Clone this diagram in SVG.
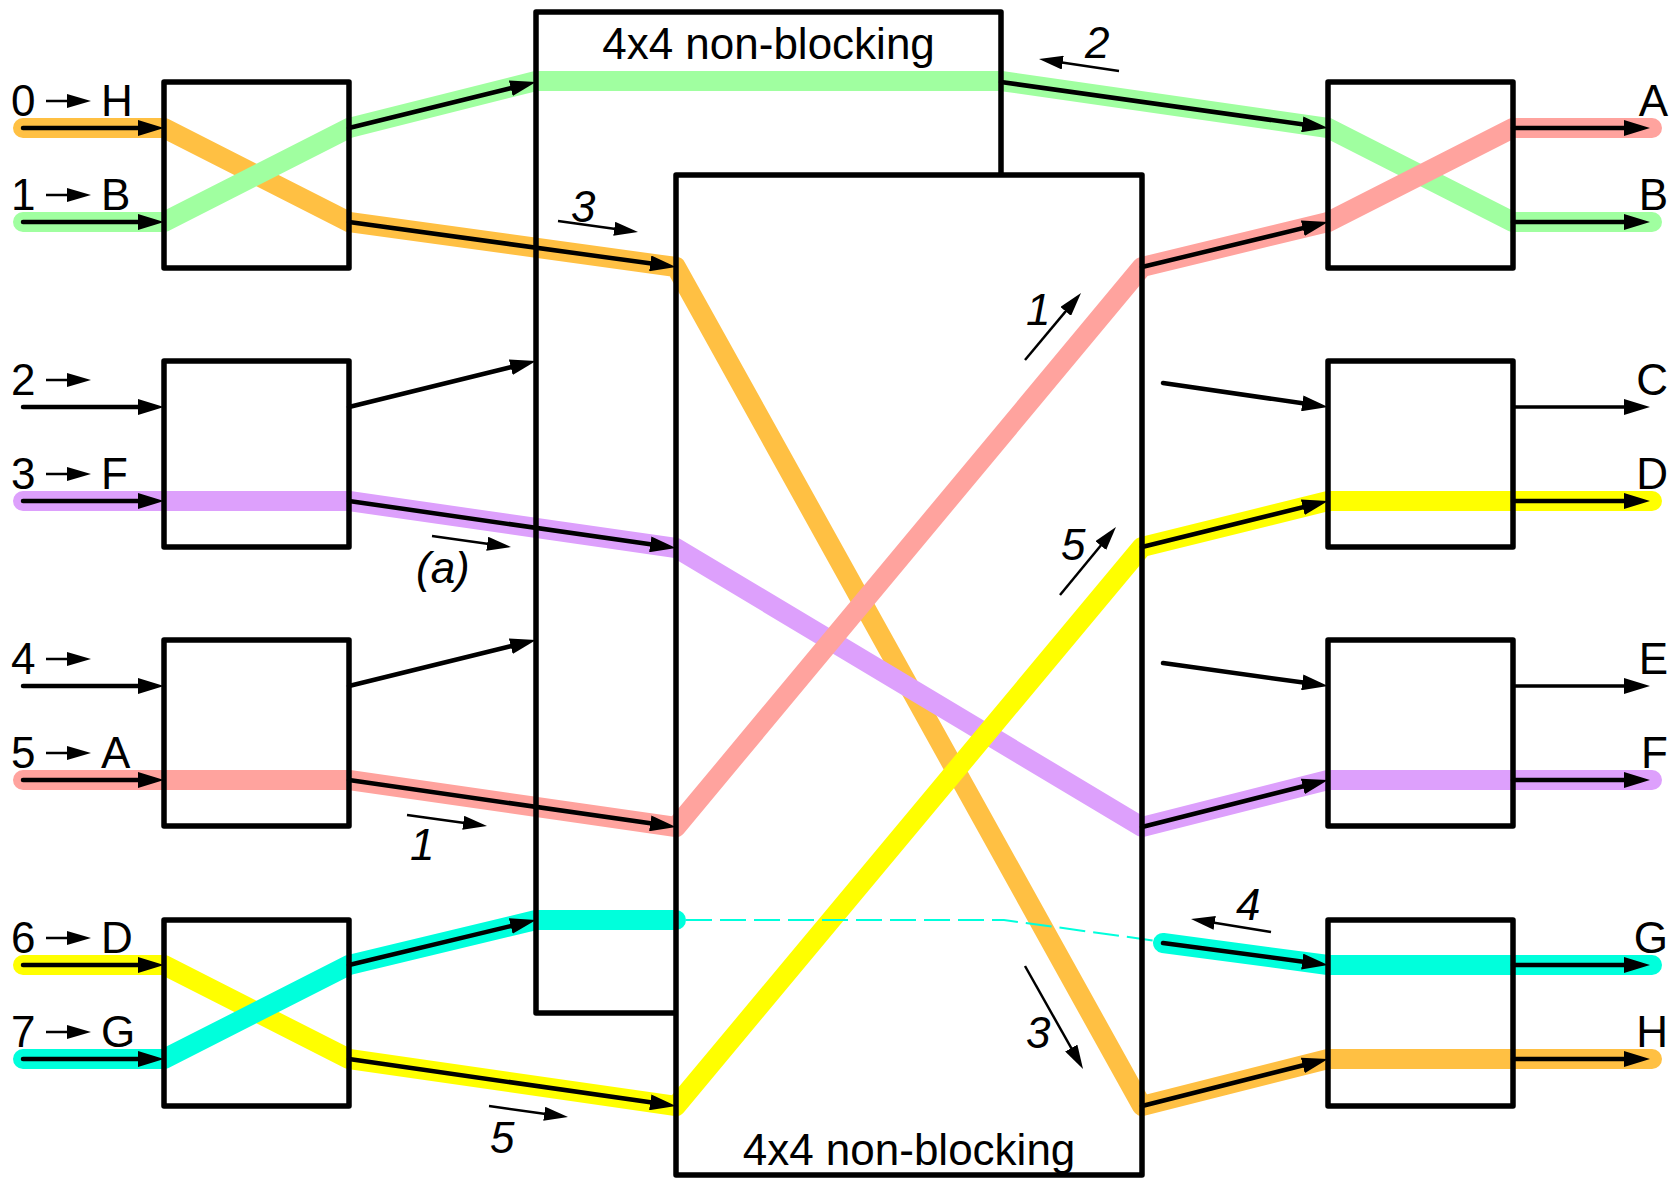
<svg xmlns="http://www.w3.org/2000/svg" width="1675" height="1178" viewBox="0 0 1675 1178">
  <style>
    .band{fill:none;stroke-width:20;stroke-linecap:round;stroke-linejoin:round}
    .or{stroke:#FFC043}.gr{stroke:#A0FFA0}.rd{stroke:#FFA39E}
    .pu{stroke:#DDA0FC}.ye{stroke:#FFFF00}.cy{stroke:#00FFDC}
    .arr{fill:none;stroke:#000;stroke-width:4.5;stroke-linecap:round;marker-end:url(#ah)}
    .arr.lt{stroke-width:3.5}
    .thin{fill:none;stroke:#000;stroke-width:2.5;marker-end:url(#ahs)}
    .box{fill:none;stroke:#000;stroke-width:5.5;stroke-linejoin:round}
    .lbl{font-family:"Liberation Sans",Arial,sans-serif;font-size:44px;fill:#000}
    .num{font-style:italic}
    .end{text-anchor:end}
    .mid{text-anchor:middle}
  </style>
  <defs>
    <marker id="ah" markerUnits="userSpaceOnUse" viewBox="0 0 26 16" markerWidth="26" markerHeight="16" refX="16" refY="8" orient="auto">
      <path d="M0,0 L26,8 L0,16 z" fill="#000"/>
    </marker>
    <marker id="ahs" markerUnits="userSpaceOnUse" viewBox="0 0 24 14" markerWidth="24" markerHeight="14" refX="16" refY="7" orient="auto">
      <path d="M0,0 L24,7 L0,14 z" fill="#000"/>
    </marker>
  </defs>
  <rect width="1675" height="1178" fill="#fff"/>

  <g id="connectors">
    <!-- highlighted paths through the three stages -->
    <g id="paths">
      <polyline class="band or" points="23,128 164,128 349,222 676,267 1142,1106 1328,1059 1652,1059"/>
      <polyline class="band gr" points="23,222 164,222 349,128 536,81 1001,81 1328,128 1513,222 1652,222"/>
      <polyline class="band pu" points="23,501 349,501 676,548 1142,827 1328,780 1652,780"/>
      <polyline class="band rd" points="23,780 349,780 676,827 1142,267 1328,222 1513,128 1652,128"/>
      <polyline class="band ye" points="23,965 164,965 349,1059 676,1106 1142,547 1328,501 1652,501"/>
      <polyline class="band cy" points="23,1059 164,1059 349,965 536,920 676,920"/>
      <polyline fill="none" stroke="#00FFDC" stroke-width="2" stroke-dasharray="26 8" points="686,920 1004,920 1157,941"/>
      <polyline class="band cy" points="1163,943 1328,965 1652,965"/>
    </g>
    <!-- inputs -->
    <g id="inputs">
      <line class="arr" x1="23" y1="128" x2="154" y2="128"/>
      <line class="arr" x1="23" y1="222" x2="154" y2="222"/>
      <line class="arr" x1="23" y1="407" x2="154" y2="407"/>
      <line class="arr" x1="23" y1="501" x2="154" y2="501"/>
      <line class="arr" x1="23" y1="686" x2="154" y2="686"/>
      <line class="arr" x1="23" y1="780" x2="154" y2="780"/>
      <line class="arr" x1="23" y1="965" x2="154" y2="965"/>
      <line class="arr" x1="23" y1="1059" x2="154" y2="1059"/>
    </g>
    <!-- first stage to middle stage -->
    <g id="stage1-links">
      <line class="arr" x1="349" y1="128" x2="526.3" y2="84.4"/>
      <line class="arr" x1="349" y1="222" x2="666.1" y2="265.6"/>
      <line class="arr" x1="349" y1="407" x2="526.3" y2="363.4"/>
      <line class="arr" x1="349" y1="501" x2="666.1" y2="546.6"/>
      <line class="arr" x1="349" y1="686" x2="526.3" y2="642.4"/>
      <line class="arr" x1="349" y1="780" x2="666.1" y2="825.6"/>
      <line class="arr" x1="349" y1="965" x2="526.3" y2="922.3"/>
      <line class="arr" x1="349" y1="1059" x2="666.1" y2="1104.6"/>
    </g>
    <!-- middle stage to last stage -->
    <g id="stage2-links">
      <line class="arr" x1="1001" y1="82" x2="1318.1" y2="126.6"/>
      <line class="arr" x1="1142" y1="267" x2="1318.3" y2="224.4"/>
      <line class="arr" x1="1163" y1="383" x2="1318.1" y2="405.6"/>
      <line class="arr" x1="1142" y1="547" x2="1318.3" y2="503.4"/>
      <line class="arr" x1="1163" y1="663" x2="1318.1" y2="684.6"/>
      <line class="arr" x1="1142" y1="827" x2="1318.3" y2="782.5"/>
      <line class="arr" x1="1163" y1="943" x2="1318.1" y2="963.7"/>
      <line class="arr" x1="1142" y1="1106" x2="1318.3" y2="1061.5"/>
    </g>
    <!-- outputs -->
    <g id="outputs">
      <line class="arr" x1="1513" y1="128" x2="1640" y2="128"/>
      <line class="arr" x1="1513" y1="222" x2="1640" y2="222"/>
      <line class="arr lt" x1="1513" y1="407" x2="1640" y2="407"/>
      <line class="arr" x1="1513" y1="501" x2="1640" y2="501"/>
      <line class="arr lt" x1="1513" y1="686" x2="1640" y2="686"/>
      <line class="arr" x1="1513" y1="780" x2="1640" y2="780"/>
      <line class="arr" x1="1513" y1="965" x2="1640" y2="965"/>
      <line class="arr" x1="1513" y1="1059" x2="1640" y2="1059"/>
    </g>
    <!-- step annotations -->
    <g id="steps">
      <line class="thin" x1="1119" y1="71" x2="1046.9" y2="60.2"/>
      <line class="thin" x1="558" y1="221" x2="630.1" y2="230.9"/>
      <line class="thin" x1="432" y1="536" x2="503.1" y2="545.9"/>
      <line class="thin" x1="407" y1="815" x2="479.1" y2="824.9"/>
      <line class="thin" x1="489" y1="1106" x2="560.1" y2="1115.9"/>
      <line class="thin" x1="1025" y1="360" x2="1075.9" y2="299.1"/>
      <line class="thin" x1="1060" y1="595" x2="1110.9" y2="533.2"/>
      <line class="thin" x1="1271" y1="932" x2="1198.9" y2="920.3"/>
      <line class="thin" x1="1025" y1="966" x2="1079.1" y2="1062"/>
    </g>
  </g>

  <!-- middle stage: two 4x4 non-blocking switches -->
  <g id="mid-upper">
    <path class="box" d="M676,1013 L536,1013 L536,12 L1001,12 L1001,175"/>
    <text class="lbl mid" x="768.5" y="59">4x4 non-blocking</text>
  </g>
  <g id="mid-lower">
    <rect class="box" x="676" y="175" width="466" height="1000"/>
    <text class="lbl mid" x="909" y="1165">4x4 non-blocking</text>
  </g>

  <!-- first stage 2x2 switches -->
  <g id="in-sw0"><rect class="box" x="164" y="82" width="185" height="186"/></g>
  <g id="in-sw1"><rect class="box" x="164" y="361" width="185" height="186"/></g>
  <g id="in-sw2"><rect class="box" x="164" y="640" width="185" height="186"/></g>
  <g id="in-sw3"><rect class="box" x="164" y="920" width="185" height="186"/></g>

  <!-- last stage 2x2 switches -->
  <g id="out-sw0"><rect class="box" x="1328" y="82" width="185" height="186"/></g>
  <g id="out-sw1"><rect class="box" x="1328" y="361" width="185" height="186"/></g>
  <g id="out-sw2"><rect class="box" x="1328" y="640" width="185" height="186"/></g>
  <g id="out-sw3"><rect class="box" x="1328" y="920" width="185" height="186"/></g>

  <!-- input labels: source -> destination -->
  <g id="input-labels">
    <text class="lbl" x="11" y="116">0</text><line class="thin" x1="46" y1="101" x2="83" y2="101"/><text class="lbl" x="101" y="116">H</text>
    <text class="lbl" x="11" y="210">1</text><line class="thin" x1="46" y1="195" x2="83" y2="195"/><text class="lbl" x="101" y="210">B</text>
    <text class="lbl" x="11" y="395">2</text><line class="thin" x1="46" y1="380" x2="83" y2="380"/>
    <text class="lbl" x="11" y="489">3</text><line class="thin" x1="46" y1="474" x2="83" y2="474"/><text class="lbl" x="101" y="489">F</text>
    <text class="lbl" x="11" y="674">4</text><line class="thin" x1="46" y1="659" x2="83" y2="659"/>
    <text class="lbl" x="11" y="768">5</text><line class="thin" x1="46" y1="753" x2="83" y2="753"/><text class="lbl" x="101" y="768">A</text>
    <text class="lbl" x="11" y="953">6</text><line class="thin" x1="46" y1="938" x2="83" y2="938"/><text class="lbl" x="101" y="953">D</text>
    <text class="lbl" x="11" y="1047">7</text><line class="thin" x1="46" y1="1032" x2="83" y2="1032"/><text class="lbl" x="101" y="1047">G</text>
  </g>

  <!-- output labels -->
  <g id="output-labels">
    <text class="lbl end" x="1668" y="116">A</text>
    <text class="lbl end" x="1668" y="210">B</text>
    <text class="lbl end" x="1668" y="395">C</text>
    <text class="lbl end" x="1668" y="489">D</text>
    <text class="lbl end" x="1668" y="674">E</text>
    <text class="lbl end" x="1668" y="768">F</text>
    <text class="lbl end" x="1668" y="953">G</text>
    <text class="lbl end" x="1668" y="1047">H</text>
  </g>

  <!-- step numbers -->
  <g id="step-labels">
    <text class="lbl num" x="1085" y="58">2</text>
    <text class="lbl num" x="571" y="222">3</text>
    <text class="lbl num" x="416" y="583">(a)</text>
    <text class="lbl num" x="410" y="860">1</text>
    <text class="lbl num" x="490" y="1153">5</text>
    <text class="lbl num" x="1026" y="325">1</text>
    <text class="lbl num" x="1061" y="560">5</text>
    <text class="lbl num" x="1236" y="920">4</text>
    <text class="lbl num" x="1026" y="1048">3</text>
  </g>
</svg>
